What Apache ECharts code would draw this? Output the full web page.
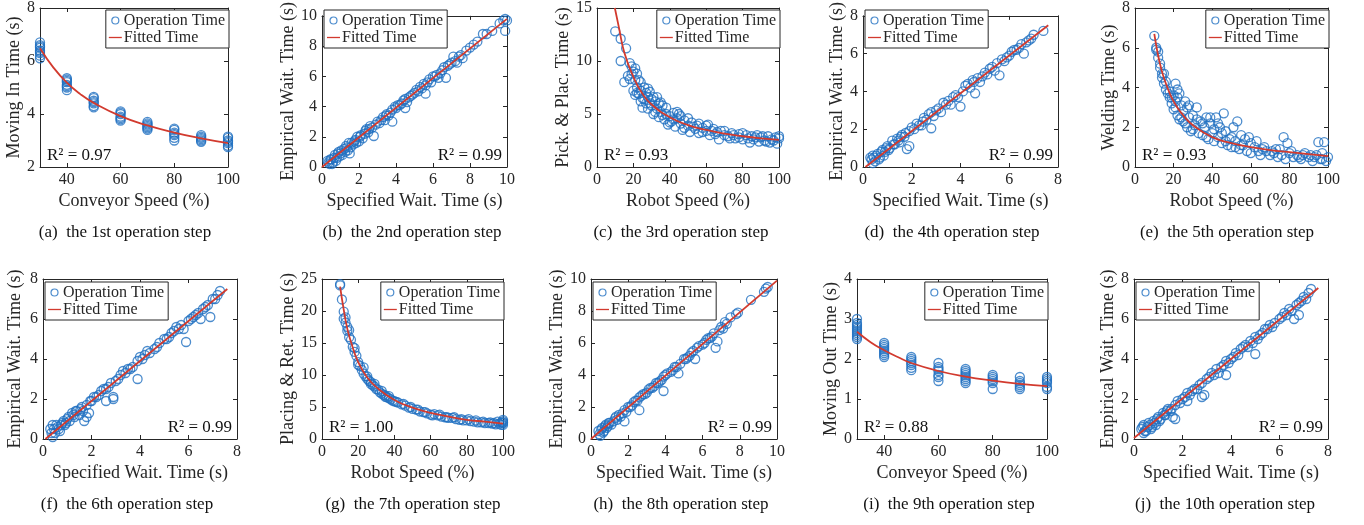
<!DOCTYPE html>
<html>
<head>
<meta charset="utf-8">
<script src="https://cdn.jsdelivr.net/npm/echarts@6/dist/echarts.min.js"></script>
<style>
  html, body { margin: 0; padding: 0; background: #fff; }
  #main { width: 1364px; height: 525px; }
</style>
</head>
<body>
<div id="main"></div>
<script>
// ---- data ----
const opA = [
  [30,6.1],[30,6.2],[30,6.3],[30,6.35],[30,6.4],[30,6.5],[30,6.55],[30,6.6],[30,6.7],
  [40,4.9],[40,5.0],[40,5.05],[40,5.1],[40,5.2],[40,5.25],[40,5.3],[40,5.35],
  [50,4.25],[50,4.3],[50,4.4],[50,4.45],[50,4.5],[50,4.6],[50,4.65],
  [60,3.75],[60,3.8],[60,3.85],[60,3.9],[60,4.0],[60,4.05],[60,4.1],
  [70,3.4],[70,3.45],[70,3.5],[70,3.55],[70,3.6],[70,3.65],[70,3.7],
  [80,3.0],[80,3.1],[80,3.2],[80,3.25],[80,3.3],[80,3.4],[80,3.45],
  [90,2.95],[90,3.0],[90,3.05],[90,3.1],[90,3.15],[90,3.2],
  [100,2.75],[100,2.8],[100,2.9],[100,2.95],[100,3.0],[100,3.1],[100,3.15]
];
const fitA = [[30,6.48],[35,5.75],[40,5.18],[45,4.75],[50,4.42],[60,3.92],[70,3.57],[80,3.3],[90,3.08],[100,2.9]];

const opB = [
  [0.3,0.4],[0.4,0.2],[0.5,0.5],[0.6,0.3],[0.7,0.8],[0.8,0.6],[0.9,1.0],[1.0,0.9],[1.1,0.8],[1.2,1.2],
  [1.3,1.4],[1.4,1.1],[1.5,0.9],[1.6,1.6],[1.7,1.5],[1.8,1.8],[1.9,2.0],[2.0,1.7],[2.1,2.1],[2.3,2.2],
  [2.4,2.5],[2.5,2.3],[2.6,2.7],[2.8,2.05],[2.9,2.8],[3.0,3.0],[3.1,2.9],[3.3,3.3],[3.4,3.1],[3.5,3.5],
  [3.6,3.4],[3.8,3.0],[3.8,3.8],[4.0,3.9],[4.1,4.1],[4.3,4.2],[4.5,3.9],[4.5,4.5],[4.6,4.3],[4.8,4.7],
  [5.0,4.9],[5.1,5.1],[5.2,5.0],[5.3,5.3],[5.5,5.5],[5.6,4.85],[5.6,5.4],[5.8,5.8],[5.9,5.6],[6.0,6.0],
  [6.2,6.1],[6.3,5.9],[6.5,6.4],[6.6,6.6],[6.7,5.9],[6.8,6.7],[7.0,6.9],[7.1,7.3],[7.2,7.0],[7.3,6.9],
  [7.5,7.4],[7.6,7.2],[7.8,7.7],[8.0,7.9],[8.2,8.1],[8.4,8.3],[8.7,8.8],[8.9,8.8],[9.2,9.0],[9.6,9.5],
  [9.8,9.7],[9.9,9.0],[9.9,9.8],[10.0,9.7],
  [0.35,0.3],[0.45,0.5],[0.55,0.2],[0.65,0.6],[0.75,0.4],[0.85,0.9],[0.95,0.7],[1.05,1.1],[1.25,1.0],[1.35,1.3],
  [1.45,1.6],[1.55,1.3],[1.75,1.7],[1.85,1.6],[2.05,2.0],[2.2,1.9],[2.35,2.4],[2.55,2.5],[2.7,2.6],[3.2,3.1],
  [3.45,3.4],[3.7,3.6],[3.95,4.0],[4.2,4.1],[4.4,4.4],[4.7,4.6],[4.9,4.8],[5.4,5.2],[5.7,5.6],[6.1,6.0],
  [6.4,6.2],[6.9,6.8],[7.4,7.3]
];
const fitB = [[0,0],[10,9.8]];

const opC = [
  [10,12.8],[13,12.1],[13,10.0],[16,11.2],[15,8.0],[17,8.6],[18,9.8],[18,8.3],[19,9.5],[20,7.2],
  [20,9.0],[21,6.8],[21,8.2],[22,8.8],[22,7.5],[23,6.9],[24,8.0],[24,7.2],[25,5.6],[25,6.5],
  [26,7.5],[27,6.0],[27,7.0],[28,5.5],[28,6.6],[29,7.1],[30,5.8],[30,6.4],[31,5.0],[32,6.2],
  [33,5.5],[34,4.7],[34,6.0],[35,5.2],[36,5.8],[37,4.5],[38,5.0],[39,4.0],[40,4.8],[41,4.3],
  [42,5.1],[43,3.8],[44,4.6],[45,5.0],[46,4.1],[47,3.5],[48,4.4],[50,3.9],[51,3.3],[52,4.2],
  [54,3.6],[55,3.9],[56,3.2],[58,3.7],[60,3.4],[61,4.0],[62,3.0],[64,3.6],[65,3.1],[67,2.6],
  [68,3.4],[70,3.0],[72,2.9],[74,3.2],[76,2.7],[78,3.1],[80,2.6],[82,3.0],[84,2.3],[85,2.9],
  [86,2.6],[88,3.0],[89,2.4],[90,2.8],[92,2.5],[94,2.9],[95,2.3],[96,2.6],[98,2.8],[99,2.2],[100,2.7],
  [19,8.8],[21,9.3],[22,7.0],[23,8.2],[24,6.2],[26,6.4],[28,7.4],[29,6.0],[31,6.6],[32,5.2],
  [33,6.6],[35,6.1],[36,4.9],[38,5.6],[40,4.2],[42,4.5],[44,5.2],[46,4.8],[48,3.7],[50,4.6],
  [53,3.8],[56,4.1],[58,3.3],[60,3.9],[63,3.4],[66,3.3],[70,3.4],[73,2.7],[75,3.0],[78,2.8],
  [80,3.2],[83,2.7],[87,2.8],[91,2.9],[93,2.4],[97,2.5],[100,2.9]
];
const fitC = [[9.8,15],[12,13.2],[15,10.8],[20,8.5],[25,6.9],[30,5.9],[40,4.7],[50,3.95],[60,3.5],[70,3.15],[80,2.9],[90,2.7],[100,2.55]];

const opD = [
  [0.3,0.5],[0.4,0.2],[0.4,0.6],[0.5,0.3],[0.6,0.7],[0.7,0.5],[0.8,0.9],[0.9,0.8],[1.0,1.1],[1.1,1.0],
  [1.2,1.4],[1.3,1.2],[1.4,1.5],[1.5,1.3],[1.6,1.7],[1.7,1.6],[1.8,0.95],[1.9,1.1],[1.9,1.9],[2.1,2.0],
  [2.2,2.3],[2.4,2.2],[2.5,2.6],[2.6,2.5],[2.8,2.05],[2.8,2.9],[2.9,2.7],[3.1,3.1],[3.2,2.9],[3.3,3.4],
  [3.5,3.5],[3.6,3.3],[3.8,3.8],[3.9,3.7],[4.0,3.2],[4.1,4.0],[4.2,4.3],[4.4,4.2],[4.5,4.6],[4.6,3.9],
  [4.7,4.7],[4.8,4.5],[5.0,5.0],[5.1,4.9],[5.3,5.3],[5.4,5.1],[5.5,5.5],[5.6,4.85],[5.7,5.7],[5.8,5.6],
  [6.0,5.9],[6.1,6.1],[6.2,6.2],[6.4,6.3],[6.5,6.5],[6.6,6.0],[6.7,6.6],[6.9,6.8],[7.0,7.0],[7.4,7.2],
  [0.35,0.4],[0.45,0.5],[0.55,0.6],[0.65,0.4],[0.75,0.8],[0.85,0.6],[0.95,1.0],[1.05,0.9],[1.25,1.2],[1.45,1.4],
  [1.55,1.6],[1.75,1.8],[2.0,2.1],[2.3,2.2],[2.45,2.4],[2.7,2.8],[3.0,3.0],[3.4,3.3],[3.7,3.7],[4.3,4.4],
  [4.55,4.5],[4.9,4.8],[5.2,5.2],[5.9,5.8],[6.3,6.2],[6.8,6.7]
];
const fitD = [[0.1,0],[7.6,7.5]];

const opE = [
  [10,6.6],[11,6.0],[11,5.9],[12,5.8],[12,5.5],[13,5.2],[14,4.7],[14,4.5],[15,4.2],[16,3.9],
  [16,4.3],[17,3.7],[18,3.5],[19,3.2],[20,2.9],[20,3.6],[21,4.2],[21,3.0],[22,3.9],[22,2.6],
  [23,3.7],[23,2.4],[24,3.1],[25,2.3],[25,2.8],[26,3.3],[27,2.0],[27,3.0],[28,2.5],[29,1.8],
  [30,2.6],[31,2.1],[32,3.0],[33,1.7],[34,2.3],[35,1.6],[36,2.0],[37,2.5],[38,1.4],[39,2.2],
  [40,1.7],[41,1.3],[42,2.5],[43,1.5],[44,2.0],[45,1.2],[46,2.7],[47,1.8],[48,1.1],[49,1.4],
  [50,1.0],[51,2.0],[52,1.3],[53,2.3],[54,0.9],[55,1.6],[56,1.1],[58,0.8],[59,1.5],[60,0.7],
  [62,1.0],[63,1.3],[65,0.6],[66,0.9],[68,0.8],[70,0.6],[72,0.7],[74,0.5],[75,0.9],[76,0.6],
  [77,1.5],[78,0.4],[79,1.2],[80,0.7],[82,0.5],[84,0.6],[86,0.4],[88,0.7],[90,0.5],[92,0.3],
  [94,0.6],[95,1.25],[96,0.4],[97,0.7],[98,1.25],[99,0.3],[100,0.5],
  [13,5.0],[15,4.7],[18,3.8],[19,3.5],[21,3.3],[22,3.5],[24,2.5],[26,2.2],[28,3.1],[30,1.9],
  [32,2.4],[35,2.2],[37,1.5],[39,2.5],[41,1.9],[43,2.2],[45,1.7],[47,1.3],[50,1.5],[52,1.0],
  [55,1.1],[57,1.4],[60,1.2],[64,0.8],[67,1.0],[71,0.8],[73,0.9],[81,0.8],[85,0.5],[87,0.6],
  [91,0.6],[93,0.5],[97,0.4]
];
const fitE = [[10,6.7],[12,5.6],[14,4.8],[16,4.2],[20,3.3],[25,2.6],[30,2.1],[40,1.5],[50,1.2],[60,1.0],[70,0.85],[80,0.75],[90,0.65],[100,0.55]];

const opF = [
  [0.3,0.5],[0.4,0.1],[0.4,0.7],[0.5,0.3],[0.6,0.6],[0.7,0.4],[0.8,0.8],[0.9,0.7],[1.0,1.0],[1.1,0.9],
  [1.2,1.3],[1.3,1.1],[1.4,1.4],[1.5,1.2],[1.6,1.6],[1.7,0.9],[1.8,1.1],[1.8,1.7],[1.9,1.3],[2.0,1.9],
  [2.1,2.1],[2.3,2.2],[2.4,2.4],[2.6,1.9],[2.6,2.5],[2.8,2.8],[2.9,2.1],[2.9,2.0],[3.0,2.9],[3.2,3.2],
  [3.4,3.3],[3.5,3.5],[3.7,3.6],[3.9,3.0],[3.9,3.9],[4.0,4.1],[4.2,4.2],[4.4,4.3],[4.6,4.5],[4.8,4.8],
  [5.0,5.0],[5.2,5.1],[5.4,5.4],[5.5,5.6],[5.7,5.7],[5.8,5.5],[5.9,4.85],[6.0,5.9],[6.2,6.1],[6.4,6.3],
  [6.5,6.0],[6.6,6.5],[6.8,6.7],[6.9,6.1],[7.0,7.0],[7.2,7.2],[7.3,7.4],
  [0.35,0.3],[0.45,0.5],[0.55,0.7],[0.65,0.5],[0.75,0.7],[0.85,0.9],[0.95,0.8],[1.05,1.1],[1.25,1.2],[1.35,1.4],
  [1.55,1.5],[1.65,1.4],[1.95,1.9],[2.2,2.1],[2.5,2.5],[2.7,2.6],[3.1,3.0],[3.3,3.4],[3.6,3.5],[4.1,4.0],
  [4.3,4.4],[4.7,4.6],[5.1,5.0],[5.3,5.3],[5.6,5.5],[6.1,6.0],[6.3,6.2],[6.7,6.6],[7.1,7.0]
];
const fitF = [[0.1,0],[7.6,7.5]];

const opG = [
  [10,24.2],[10,24.0],[11,21.8],[12,19.9],[12,18.8],[13,18.2],[13,19.0],[14,17.5],[14,16.9],[15,17.0],
  [15,15.9],[16,15.5],[17,14.4],[18,13.6],[18,14.2],[19,13.0],[20,12.0],[20,11.6],[21,11.4],[22,10.8],
  [23,11.2],[23,10.2],[24,9.8],[25,9.4],[26,9.1],[27,8.9],[28,8.4],[29,8.2],[30,7.8],[31,7.7],
  [32,7.3],[33,7.1],[34,6.9],[35,6.8],[36,6.5],[37,6.4],[38,6.2],[39,6.0],[40,5.9],[42,5.7],
  [44,5.4],[46,5.2],[48,4.9],[50,4.7],[52,4.6],[54,4.3],[56,4.2],[58,4.0],[60,3.8],[62,3.9],
  [64,3.7],[66,3.5],[68,3.4],[70,3.3],[72,3.3],[74,3.1],[76,3.0],[78,2.9],[80,2.9],[82,2.8],
  [84,2.7],[86,2.6],[88,2.6],[90,2.5],[92,2.5],[94,2.4],[96,2.3],[98,2.4],[99,2.6],[100,2.5],
  [100,2.8],[100,2.2],
  [25,9.8],[27,8.6],[29,8.6],[33,7.5],[35,6.6],[37,6.7],[41,5.8],[45,5.5],[49,5.0],[53,4.6],
  [57,4.2],[61,3.7],[65,3.8],[69,3.4],[73,3.4],[77,3.1],[81,3.1],[85,2.9],[89,2.7],[93,2.6],
  [95,2.5],[97,2.7],[99,2.2],[100,3.0],[100,2.6]
];
const fitG = [[10,23.8],[12,20.2],[14,17.2],[16,15.2],[20,12.0],[25,9.6],[30,8.1],[40,6.1],[50,4.9],[60,4.1],[70,3.5],[80,3.0],[90,2.7],[100,2.4]];

const opH = [
  [0.4,0.5],[0.5,0.2],[0.6,0.7],[0.7,0.5],[0.8,0.9],[0.9,0.8],[1.0,1.0],[1.1,0.9],[1.3,1.3],[1.4,1.2],
  [1.5,1.5],[1.6,1.4],[1.8,1.1],[1.8,1.8],[1.9,1.7],[2.0,2.0],[2.2,2.1],[2.3,2.3],[2.5,2.4],[2.6,1.8],
  [2.6,2.6],[2.8,2.8],[3.0,2.9],[3.2,3.2],[3.4,3.3],[3.5,3.5],[3.7,3.6],[3.9,3.0],[3.9,3.9],[4.1,4.1],
  [4.3,4.2],[4.5,4.5],[4.7,4.1],[4.8,4.7],[5.0,5.0],[5.2,5.1],[5.4,5.4],[5.6,5.0],[5.7,5.7],[6.0,5.9],
  [6.2,6.2],[6.4,6.3],[6.6,6.6],[6.7,5.7],[6.8,6.1],[6.9,6.8],[7.0,7.0],[7.1,6.9],[7.2,7.3],[7.5,7.6],
  [7.8,7.8],[7.9,7.9],[8.6,8.7],[9.3,9.2],[9.4,9.4],[9.5,9.5],
  [0.45,0.3],[0.55,0.6],[0.65,0.4],[0.75,0.8],[0.85,0.7],[0.95,1.0],[1.2,1.1],[1.35,1.4],[1.7,1.6],[2.1,2.0],
  [2.4,2.4],[2.7,2.7],[2.9,2.8],[3.1,3.1],[3.3,3.2],[3.6,3.5],[3.8,3.7],[4.0,4.0],[4.4,4.3],[4.6,4.5],
  [5.1,5.0],[5.3,5.2],[5.5,5.5],[5.8,5.8],[6.1,6.0],[6.3,6.3],[6.5,6.4],[7.3,7.2]
];
const fitH = [[0,0],[10,9.9]];

const opI = [
  [30,2.5],[30,2.55],[30,2.6],[30,2.65],[30,2.7],[30,2.75],[30,2.8],[30,2.85],[30,2.9],[30,3.0],
  [40,2.05],[40,2.1],[40,2.15],[40,2.2],[40,2.25],[40,2.3],[40,2.35],[40,2.4],
  [50,1.72],[50,1.78],[50,1.85],[50,1.9],[50,1.95],[50,2.0],[50,2.05],
  [60,1.45],[60,1.55],[60,1.6],[60,1.7],[60,1.75],[60,1.8],[60,1.9],
  [70,1.4],[70,1.45],[70,1.5],[70,1.55],[70,1.6],[70,1.65],[70,1.7],[70,1.75],
  [80,1.25],[80,1.4],[80,1.45],[80,1.5],[80,1.55],[80,1.6],
  [90,1.25],[90,1.3],[90,1.35],[90,1.4],[90,1.45],[90,1.55],
  [100,1.25],[100,1.3],[100,1.4],[100,1.45],[100,1.5],[100,1.55]
];
const fitI = [[30,2.68],[35,2.42],[40,2.22],[45,2.05],[50,1.9],[60,1.7],[70,1.56],[80,1.46],[90,1.38],[100,1.32]];

const opJ = [
  [0.3,0.5],[0.4,0.3],[0.4,0.7],[0.5,0.4],[0.6,0.8],[0.7,0.5],[0.8,0.9],[0.9,0.7],[1.0,1.1],[1.1,1.0],
  [1.2,1.3],[1.3,1.2],[1.4,1.5],[1.5,1.4],[1.6,1.1],[1.7,1.0],[1.7,1.7],[1.8,1.9],[2.0,2.0],[2.2,1.9],
  [2.2,2.3],[2.4,2.4],[2.6,2.5],[2.8,2.1],[2.8,2.8],[2.9,2.2],[3.0,3.0],[3.2,3.3],[3.4,3.5],[3.5,3.3],
  [3.7,3.7],[3.8,3.2],[3.8,3.9],[4.0,4.0],[4.2,4.3],[4.4,4.5],[4.6,4.7],[4.7,4.6],[4.8,4.9],[5.0,4.25],
  [5.0,5.1],[5.2,5.2],[5.4,5.5],[5.6,5.7],[5.8,5.8],[6.0,6.0],[6.2,6.3],[6.4,6.5],[6.6,6.0],[6.7,6.7],
  [6.8,6.2],[6.9,6.9],[7.0,7.1],[7.2,7.3],[7.3,7.5],
  [0.35,0.6],[0.45,0.4],[0.55,0.6],[0.65,0.7],[0.75,0.6],[0.85,0.8],[0.95,1.0],[1.05,0.9],[1.25,1.2],[1.35,1.4],
  [1.55,1.5],[1.9,1.8],[2.1,2.1],[2.3,2.2],[2.5,2.5],[2.7,2.7],[3.1,3.1],[3.3,3.2],[3.6,3.6],[3.9,3.8],
  [4.1,4.1],[4.3,4.2],[4.5,4.6],[4.9,4.8],[5.1,5.0],[5.3,5.3],[5.5,5.5],[5.7,5.6],[6.1,6.1],[6.3,6.2],
  [6.5,6.4],[6.8,6.8],[7.1,7.0]
];
const fitJ = [[0,0.05],[7.6,7.55]];

const opData = [opA, opB, opC, opD, opE, opF, opG, opH, opI, opJ];
const fitData = [fitA, fitB, fitC, fitD, fitE, fitF, fitG, fitH, fitI, fitJ];

const xNames = ['Conveyor Speed (%)', 'Specified Wait. Time (s)', 'Robot Speed (%)', 'Specified Wait. Time (s)', 'Robot Speed (%)',
  'Specified Wait. Time (s)', 'Robot Speed (%)', 'Specified Wait. Time (s)', 'Conveyor Speed (%)', 'Specified Wait. Time (s)'];
const yNames = ['Moving In Time (s)', 'Empirical Wait. Time (s)', 'Pick. & Plac. Time (s)', 'Empirical Wait. Time (s)', 'Welding Time (s)',
  'Empirical Wait. Time (s)', 'Placing & Ret. Time (s)', 'Empirical Wait. Time (s)', 'Moving Out Time (s)', 'Empirical Wait. Time (s)'];
const r2Labels = ['0.97', '0.99', '0.93', '0.99', '0.93', '0.99', '1.00', '0.99', '0.88', '0.99'];
const captions = ['(a)  the 1st operation step', '(b)  the 2nd operation step', '(c)  the 3rd operation step',
  '(d)  the 4th operation step', '(e)  the 5th operation step', '(f)  the 6th operation step',
  '(g)  the 7th operation step', '(h)  the 8th operation step', '(i)  the 9th operation step', '(j)  the 10th operation step'];

const xMin = [30, 0, 0, 0, 0, 0, 0, 0, 30, 0];
const xMax = [100, 10, 100, 8, 100, 8, 100, 10, 100, 8];
const xTicks = [
  [40, 60, 80, 100], [0, 2, 4, 6, 8, 10], [0, 20, 40, 60, 80, 100], [0, 2, 4, 6, 8], [0, 20, 40, 60, 80, 100],
  [0, 2, 4, 6, 8], [0, 20, 40, 60, 80, 100], [0, 2, 4, 6, 8, 10], [40, 60, 80, 100], [0, 2, 4, 6, 8]
];
const yTicks = [
  [2, 4, 6, 8], [0, 2, 4, 6, 8, 10], [0, 5, 10, 15], [0, 2, 4, 6, 8], [0, 2, 4, 6, 8],
  [0, 2, 4, 6, 8], [0, 5, 10, 15, 20, 25], [0, 2, 4, 6, 8, 10], [0, 1, 2, 3, 4], [0, 2, 4, 6, 8]
];

// ---- layout (pixels) ----
const panels = [
  { left: 40, top: 7, width: 188, height: 160, yGap: 16, leg: 'right', r2: 'left', cap: 125 },
  { left: 322, top: 7, width: 185, height: 160, yGap: 23, leg: 'left', r2: 'right', cap: 412 },
  { left: 597, top: 7, width: 182, height: 160, yGap: 20, leg: 'right', r2: 'left', cap: 681 },
  { left: 863, top: 7, width: 195, height: 160, yGap: 14, leg: 'left', r2: 'right', cap: 952 },
  { left: 1135, top: 7, width: 193, height: 160, yGap: 14, leg: 'right', r2: 'left', cap: 1227 },
  { left: 43, top: 279, width: 194, height: 160, yGap: 19, leg: 'left', r2: 'right', cap: 127 },
  { left: 322, top: 279, width: 181, height: 160, yGap: 25, leg: 'right', r2: 'left', cap: 413 },
  { left: 591, top: 279, width: 186, height: 160, yGap: 23, leg: 'left', r2: 'right', cap: 681 },
  { left: 857, top: 279, width: 190, height: 160, yGap: 13, leg: 'right', r2: 'left', cap: 949 },
  { left: 1134, top: 279, width: 194, height: 160, yGap: 13, leg: 'left', r2: 'right', cap: 1225 }
];

const FONT = '"Liberation Serif", "Times New Roman", serif';
const ink = '#262626';
const blue = '#1f6fc0';
const red = '#D23A2E';

function makeAxis(i, dim, mirror) {
  const ticks = dim === 'x' ? xTicks[i] : yTicks[i];
  const lo = dim === 'x' ? xMin[i] : ticks[0];
  const hi = dim === 'x' ? xMax[i] : ticks[ticks.length - 1];
  let step = ticks[1] - ticks[0];
  if (lo % step) step = step / 2;
  const p = panels[i];
  return {
    type: 'value',
    gridIndex: i,
    min: lo,
    max: hi,
    interval: step,
    position: dim === 'x' ? (mirror ? 'top' : 'bottom') : (mirror ? 'right' : 'left'),
    axisLine: { show: true, onZero: false, lineStyle: { color: ink, width: 1 } },
    axisTick: { show: true, inside: true, length: 4, customValues: ticks, lineStyle: { color: ink } },
    axisLabel: { show: !mirror, customValues: ticks, color: ink, fontFamily: FONT, fontSize: 16, margin: 5 },
    splitLine: { show: false },
    name: mirror ? '' : (dim === 'x' ? xNames[i] : yNames[i]),
    nameLocation: 'middle',
    nameGap: dim === 'x' ? 25 : p.yGap,
    nameTextStyle: { color: ink, fontFamily: FONT, fontSize: 18 }
  };
}

const grid = [], xAxis = [], yAxis = [], series = [], legend = [], graphic = [];
panels.forEach((p, i) => {
  grid.push({ left: p.left, top: p.top, width: p.width, height: p.height, containLabel: false });
  xAxis.push(makeAxis(i, 'x', false), makeAxis(i, 'x', true));
  yAxis.push(makeAxis(i, 'y', false), makeAxis(i, 'y', true));
  series.push({
    name: 'Operation Time',
    type: 'scatter',
    xAxisIndex: 2 * i,
    yAxisIndex: 2 * i,
    symbol: 'circle',
    symbolSize: 9,
    itemStyle: { color: 'rgba(0,0,0,0)', borderColor: blue, borderWidth: 1.3 },
    data: opData[i],
    z: 2
  });
  series.push({
    name: 'Fitted Time',
    type: 'line',
    xAxisIndex: 2 * i,
    yAxisIndex: 2 * i,
    symbol: 'none',
    smooth: true,
    lineStyle: { color: red, width: 1.8 },
    itemStyle: { color: red },
    data: fitData[i],
    z: 3
  });
  const leg = {
    data: [
      { name: 'Operation Time', icon: 'circle', itemStyle: { color: '#fff', borderColor: blue, borderWidth: 1.2 } },
      { name: 'Fitted Time', icon: 'path://M0,0 L24,0 L24,2.4 L0,2.4 Z', itemStyle: { color: red, borderWidth: 0 } }
    ],
    orient: 'vertical',
    top: p.top + 3,
    padding: [2, 4, 2, 3],
    itemGap: 0,
    itemWidth: 13,
    itemHeight: 7,
    backgroundColor: '#fff',
    borderColor: ink,
    borderWidth: 1,
    borderRadius: 0,
    selectedMode: false,
    textStyle: { color: ink, fontFamily: FONT, fontSize: 16, padding: [0, 0, 0, -3], lineHeight: 17 }
  };
  if (p.leg === 'right') leg.right = 1364 - (p.left + p.width) - 1;
  else leg.left = p.left + 2;
  legend.push(leg);

  graphic.push({
    type: 'text',
    x: p.r2 === 'left' ? p.left + 7 : p.left + p.width - 5,
    y: p.top + p.height - 11,
    style: {
      text: 'R² = ' + r2Labels[i],
      font: '17px ' + FONT,
      fill: '#111',
      align: p.r2 === 'left' ? 'left' : 'right',
      verticalAlign: 'middle'
    }
  });
  graphic.push({
    type: 'text',
    x: p.cap,
    y: p.top + p.height + 66,
    style: {
      text: captions[i],
      font: '17px ' + FONT,
      fill: '#111',
      align: 'center',
      verticalAlign: 'middle'
    }
  });
});

const chart = echarts.init(document.getElementById('main'));
chart.setOption({
  animation: false,
  backgroundColor: '#fff',
  grid, xAxis, yAxis, series, legend, graphic
});
</script>
</body>
</html>
